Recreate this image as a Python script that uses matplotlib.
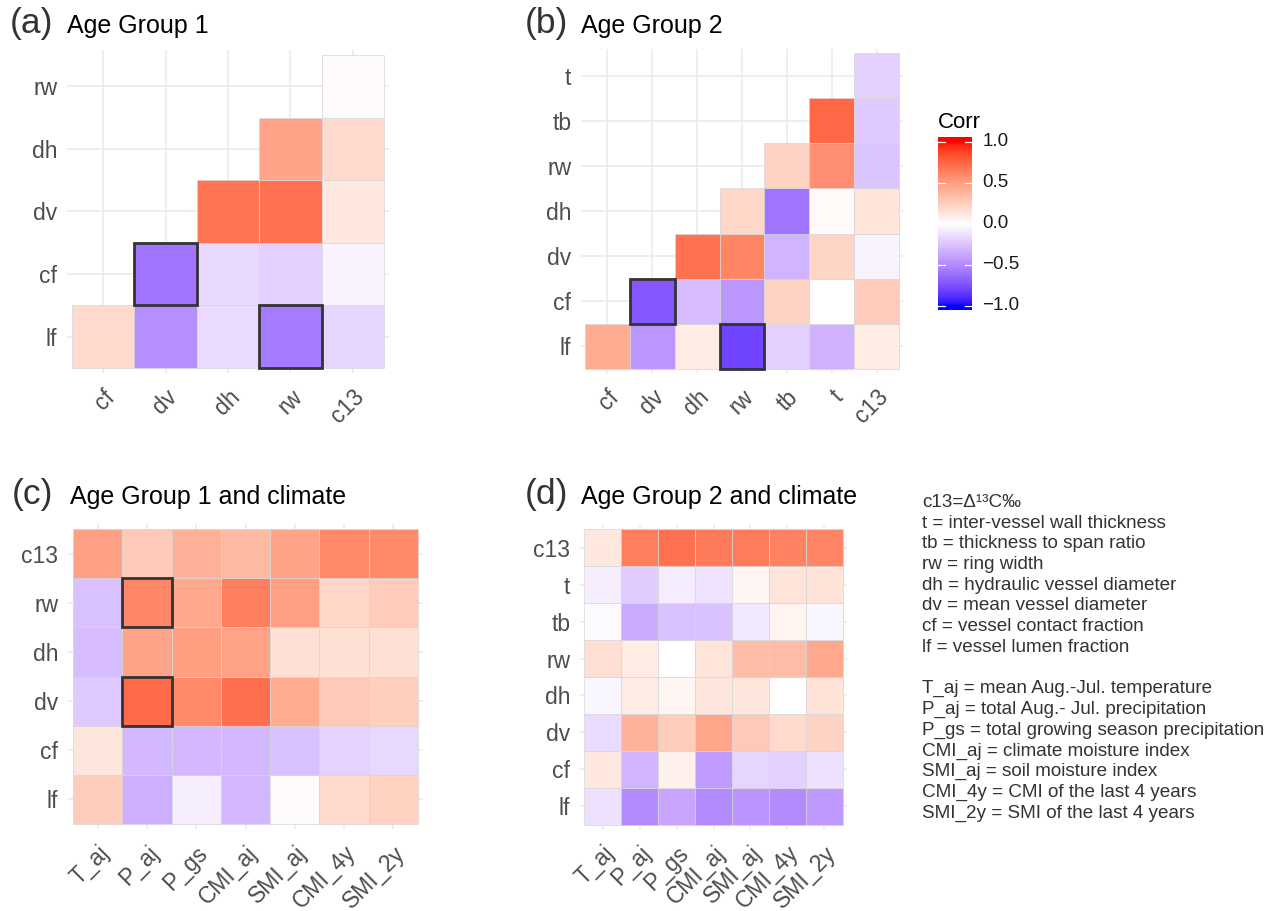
import numpy as np
import matplotlib
matplotlib.use("Agg")
import matplotlib.pyplot as plt
from matplotlib.colors import ListedColormap, Normalize
from matplotlib.patches import Rectangle

plt.rcParams['font.family'] = ['Liberation Sans', 'DejaVu Sans']

nan = np.nan
# ---------------- data ----------------
# Panel (a): rows bottom -> top, columns left -> right
a_rows = ["lf", "cf", "dv", "dh", "rw"]
a_cols = ["cf", "dv", "dh", "rw", "c13"]
a_lf = [0.19, -0.48, -0.15, -0.57, -0.18]
a_cf = [nan, -0.60, -0.16, -0.20, -0.05]
a_dv = [nan, nan, 0.69, 0.71, 0.12]
a_dh = [nan, nan, nan, 0.47, 0.19]
a_rw = [nan, nan, nan, nan, 0.02]
a_highlight = [("cf", "dv"), ("lf", "rw")]

# Panel (b)
b_rows = ["lf", "cf", "dv", "dh", "rw", "tb", "t"]
b_cols = ["cf", "dv", "dh", "rw", "tb", "t", "c13"]
b_lf = [0.43, -0.45, 0.10, -0.80, -0.20, -0.33, 0.10]
b_cf = [nan, -0.72, -0.28, -0.45, 0.23, 0.00, 0.27]
b_dv = [nan, nan, 0.71, 0.62, -0.32, 0.22, -0.05]
b_dh = [nan, nan, nan, 0.21, -0.60, 0.03, 0.14]
b_rw = [nan, nan, nan, nan, 0.23, 0.57, -0.25]
b_tb = [nan, nan, nan, nan, nan, 0.75, -0.23]
b_t = [nan, nan, nan, nan, nan, nan, -0.20]
b_highlight = [("cf", "dv"), ("lf", "rw")]

# Panel (c): rows top -> bottom
clim_cols = ["T_aj", "P_aj", "P_gs", "CMI_aj", "SMI_aj", "CMI_4y", "SMI_2y"]
c_rows = ["c13", "rw", "dh", "dv", "cf", "lf"]
c_c13 = [0.49, 0.28, 0.41, 0.36, 0.47, 0.60, 0.59]
c_rw = [-0.27, 0.61, 0.45, 0.65, 0.49, 0.21, 0.27]
c_dh = [-0.28, 0.47, 0.50, 0.48, 0.16, 0.16, 0.16]
c_dv = [-0.23, 0.74, 0.60, 0.72, 0.43, 0.28, 0.25]
c_cf = [0.13, -0.30, -0.30, -0.30, -0.27, -0.19, -0.17]
c_lf = [0.26, -0.34, -0.07, -0.30, 0.02, 0.19, 0.24]
c_highlight = [("rw", "P_aj"), ("dv", "P_aj")]

# Panel (d): rows top -> bottom
d_rows = ["c13", "t", "tb", "rw", "dh", "dv", "cf", "lf"]
d_c13 = [0.12, 0.65, 0.71, 0.67, 0.66, 0.63, 0.62]
d_t = [-0.07, -0.22, -0.08, -0.12, 0.05, 0.14, 0.15]
d_tb = [-0.02, -0.36, -0.27, -0.27, -0.10, 0.06, -0.04]
d_rw = [0.17, 0.10, 0.00, 0.14, 0.35, 0.35, 0.45]
d_dh = [-0.04, 0.10, 0.05, 0.13, 0.13, 0.00, 0.15]
d_dv = [-0.15, 0.40, 0.26, 0.46, 0.28, 0.19, 0.23]
d_cf = [0.12, -0.32, 0.08, -0.43, -0.18, -0.20, -0.13]
d_lf = [-0.13, -0.50, -0.38, -0.50, -0.46, -0.50, -0.44]

legend_ticks = [-1.0, -0.5, 0.0, 0.5, 1.0]

notes = [
    "c13=\u0394\u00b9\u00b3C\u2030",
    "t = inter-vessel wall thickness",
    "tb = thickness to span ratio",
    "rw = ring width",
    "dh = hydraulic vessel diameter",
    "dv = mean vessel diameter",
    "cf = vessel contact fraction",
    "lf = vessel lumen fraction",
    "",
    "T_aj = mean Aug.-Jul. temperature",
    "P_aj = total Aug.- Jul. precipitation",
    "P_gs = total growing season precipitation",
    "CMI_aj = climate moisture index",
    "SMI_aj = soil moisture index",
    "CMI_4y = CMI of the last 4 years",
    "SMI_2y = SMI of the last 4 years",
]

# ---------------- colour scale (Lab interpolation, like ggplot2 gradient2) ----------------
M = np.array([[0.4124564, 0.3575761, 0.1804375],
              [0.2126729, 0.7151522, 0.0721750],
              [0.0193339, 0.1191920, 0.9503041]])
WHITE = np.array([0.95047, 1.0, 1.08883])
D = 6 / 29


def srgb_to_lab(c):
    c = np.asarray(c, float)
    lin = np.where(c <= 0.04045, c / 12.92, ((c + 0.055) / 1.055) ** 2.4)
    t = (M @ lin) / WHITE
    f = np.where(t > D ** 3, np.cbrt(t), t / (3 * D ** 2) + 4 / 29)
    return np.array([116 * f[1] - 16, 500 * (f[0] - f[1]), 200 * (f[1] - f[2])])


def lab_to_srgb(lab):
    L, A, B = lab
    fy = (L + 16) / 116
    fx = fy + A / 500
    fz = fy - B / 200
    f = np.array([fx, fy, fz])
    t = np.where(f > D, f ** 3, 3 * D ** 2 * (f - 4 / 29)) * WHITE
    lin = np.linalg.solve(M, t)
    lin = np.clip(lin, 0, 1)
    c = np.where(lin <= 0.0031308, 12.92 * lin, 1.055 * lin ** (1 / 2.4) - 0.055)
    return np.clip(c, 0, 1)


lab_low = srgb_to_lab([0, 0, 1])
lab_mid = srgb_to_lab([1, 1, 1])
lab_high = srgb_to_lab([1, 0, 0])
cols = []
for v in np.linspace(-1, 1, 511):
    if v < 0:
        lab = lab_mid + (-v) * (lab_low - lab_mid)
    else:
        lab = lab_mid + v * (lab_high - lab_mid)
    cols.append(lab_to_srgb(lab))
cmap = ListedColormap(cols)
norm = Normalize(-1, 1)

# ---------------- figure ----------------
W, H = 1270, 911
fig = plt.figure(figsize=(W / 100, H / 100), dpi=100)
fig.patch.set_facecolor("white")


def px_axes(l, t, r, b):
    return fig.add_axes([l / W, 1 - b / H, (r - l) / W, (b - t) / H])


TICK_COLOR = "#4D4D4D"
TICK_SIZE = 16.5


def heat(ax, mat, xlabels, ylabels, margin, highlight):
    mat = np.array(mat, float)
    nr, nc = mat.shape
    ax.set_facecolor("white")
    ax.set_axisbelow(True)
    for r in range(nr):
        for c in range(nc):
            v = mat[r, c]
            if np.isnan(v):
                continue
            ax.add_patch(Rectangle((c - 0.5, r - 0.5), 1, 1,
                                   facecolor=cmap(norm(v)), edgecolor="#D6D6D6",
                                   linewidth=0.5, zorder=2))
    ax.set_xlim(-0.5 - margin, nc - 0.5 + margin)
    ax.set_ylim(-0.5 - margin, nr - 0.5 + margin)
    ax.set_xticks(range(nc))
    ax.set_yticks(range(nr))
    ax.set_xticklabels(xlabels, rotation=45, ha="right", va="top",
                       rotation_mode="anchor", color=TICK_COLOR, fontsize=TICK_SIZE)
    ax.set_yticklabels(ylabels, color=TICK_COLOR, fontsize=TICK_SIZE)
    ax.tick_params(length=0, pad=7)
    ax.tick_params(axis="x", pad=9)
    ax.grid(True, color="#EBEBEB", linewidth=1.2, zorder=0)
    for s in ax.spines.values():
        s.set_visible(False)
    for (rl, cl) in highlight:
        r = ylabels.index(rl)
        c = xlabels.index(cl)
        ax.add_patch(Rectangle((c - 0.5, r - 0.5), 1, 1, fill=False,
                               edgecolor="#333333", linewidth=2.0, zorder=5))


# (a)
axa = px_axes(67, 50, 389, 373)
heat(axa, [a_lf, a_cf, a_dv, a_dh, a_rw], a_cols, a_rows, 0.08, a_highlight)
# (b)
axb = px_axes(581, 49, 903, 373)
heat(axb, [b_lf, b_cf, b_dv, b_dh, b_rw, b_tb, b_t], b_cols, b_rows, 0.09, b_highlight)
# (c) - rows given top->bottom, draw bottom->top
c_mat = [c_c13, c_rw, c_dh, c_dv, c_cf, c_lf][::-1]
axc = px_axes(68, 524, 423, 829)
heat(axc, c_mat, clim_cols, c_rows[::-1], 0.1, c_highlight)
# (d)
d_mat = [d_c13, d_t, d_tb, d_rw, d_dh, d_dv, d_cf, d_lf][::-1]
axd = px_axes(580, 525, 847, 829)
heat(axd, d_mat, clim_cols, d_rows[::-1], 0.11, [])


def ftext(x, y, s, **kw):
    fig.text(x / W, 1 - y / H, s, **kw)


for (tx, lx, yb, tag, title) in [(10, 67, 33, "(a)", "Age Group 1"),
                                 (525, 581, 33, "(b)", "Age Group 2"),
                                 (12, 70, 504, "(c)", "Age Group 1 and climate"),
                                 (525, 581, 504, "(d)", "Age Group 2 and climate")]:
    ftext(tx, yb, tag, fontsize=25.5, color="#333333", va="baseline", ha="left")
    ftext(lx, yb, title, fontsize=18, color="black", va="baseline", ha="left")

# colour bar legend
axl = px_axes(938, 137, 972, 310)
grad = np.linspace(-1.06, 1.06, 400).reshape(-1, 1)
axl.imshow(grad, cmap=cmap, vmin=-1, vmax=1, aspect="auto", origin="lower",
           extent=[0, 1, -1.06, 1.06])
axl.set_xlim(0, 1)
axl.set_ylim(-1.05, 1.06)
axl.axis("off")
for v in legend_ticks:
    axl.plot([0, 0.2], [v, v], color="white", lw=0.9)
    axl.plot([0.8, 1], [v, v], color="white", lw=0.9)
    axl.text(1.3, v, f"{v:.1f}".replace("-", "\u2212"), transform=axl.get_yaxis_transform(),
             ha="left", va="center", fontsize=13.5, color="#1A1A1A")
ftext(938, 123, "Corr", fontsize=16, color="black", va="center", ha="left")

# notes
for i, line in enumerate(notes):
    ftext(922, 507 + i * 20.7, line, fontsize=13.6, color="#333333", va="baseline", ha="left")

fig.savefig("out.png", dpi=100, facecolor="white")
